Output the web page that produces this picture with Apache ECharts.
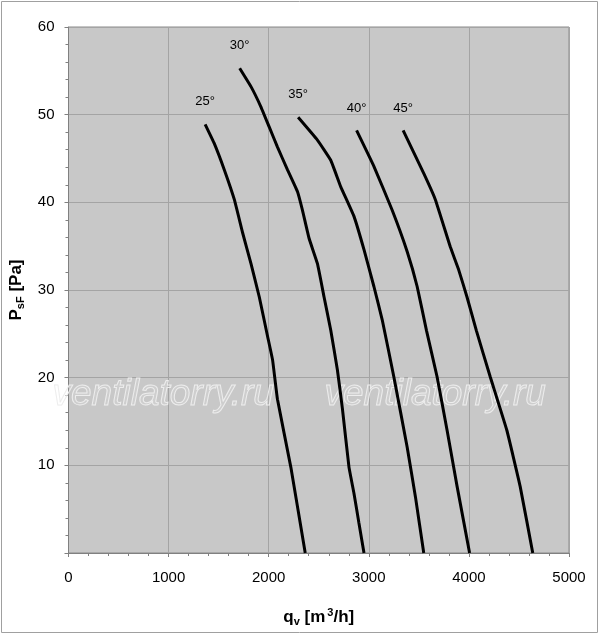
<!DOCTYPE html>
<html><head><meta charset="utf-8">
<script src="https://cdn.jsdelivr.net/npm/echarts@6/dist/echarts.min.js"></script>
<style>html,body{margin:0;padding:0;background:#fff}#c{width:600px;height:635px}</style>
</head><body><div id="c"></div>
<script>
var xTicks = [0, 1000, 2000, 3000, 4000, 5000];
var yTicks = [0, 10, 20, 30, 40, 50, 60];
var angleNames = ['25°', '30°', '35°', '40°', '45°'];
var curve25 = [[1365,48.9],[1457,46.7],[1557,43.7],[1657,40.3],[1740,36.5],[1823,33.0],[1906,29.2],[1989,24.7],[2039,22.0],[2088,17.5],[2221,9.8],[2365,0]];
var curve30 = [[1710,55.3],[1823,53.2],[1922,50.9],[2005,48.6],[2088,46.3],[2188,43.7],[2288,41.2],[2337,39.1],[2403,35.9],[2487,33.0],[2553,29.2],[2620,25.4],[2686,20.9],[2736,16.5],[2802,9.8],[2852,6.8],[2900,3.5],[2952,0]];
var curve35 = [[2294,49.7],[2487,47.1],[2620,44.8],[2719,41.8],[2852,38.4],[2952,34.6],[3051,30.4],[3134,26.6],[3250,20.1],[3383,12.1],[3466,6.4],[3549,0]];
var curve40 = [[2878,48.2],[3051,44.1],[3234,39.1],[3383,34.4],[3483,30.4],[3576,25.4],[3682,20.1],[3782,14.0],[3882,7.6],[4007,0]];
var curve45 = [[3343,48.2],[3549,43.3],[3665,40.3],[3815,34.9],[3898,32.3],[3981,29.2],[4074,25.4],[4213,20.1],[4379,14.0],[4512,7.6],[4638,0]];
var curves = [curve25, curve30, curve35, curve40, curve45];
var watermark = 'ventilatorry.ru';

var FONT = '"Liberation Sans", Arial, sans-serif';
var chart = echarts.init(document.getElementById('c'));
var series = curves.map(function (c, i) {
  var data = c.map(function (p, j) {
    if (j === 0) {
      return {value: p, label: {show: true, formatter: angleNames[i], position: 'top', distance: 16,
        color: '#000', fontSize: 13, fontFamily: FONT}};
    }
    return p;
  });
  return {type: 'line', data: data, symbol: 'circle', symbolSize: 0.01, showSymbol: true,
    label: {show: false}, smooth: 0.1,
    lineStyle: {color: '#000', width: 3}, itemStyle: {color: '#000'}, silent: true, z: 5};
});

chart.setOption({
  animation: false,
  textStyle: {fontFamily: FONT},
  grid: {left: 67, right: 31, top: 27, bottom: 82, show: true, backgroundColor: '#c8c8c8', borderColor: '#8a8a8a', borderWidth: 1},
  xAxis: {
    type: 'value', min: xTicks[0], max: xTicks[xTicks.length - 1], interval: 1000,
    name: '{b|q}{s|v}{b| [m}{p|3}{b|/h]}', nameLocation: 'middle', nameGap: 54,
    nameTextStyle: {rich: {
      b: {fontSize: 17, fontWeight: 'bold', color: '#000', fontFamily: FONT},
      s: {fontSize: 11, fontWeight: 'bold', color: '#000', fontFamily: FONT, verticalAlign: 'bottom', padding: [9, 0, 0, 0]},
      p: {fontSize: 11, fontWeight: 'bold', color: '#000', fontFamily: FONT, verticalAlign: 'top', padding: [0, 0, 7, 2]}
    }},
    axisLine: {lineStyle: {color: '#808080', width: 1}},
    axisTick: {show: true, length: 4, lineStyle: {color: '#808080'}},
    minorTick: {show: true, splitNumber: 5, length: 3, lineStyle: {color: '#808080'}},
    axisLabel: {fontSize: 15, color: '#000', margin: 17, fontFamily: FONT,
      formatter: function (v) { return String(v); }},
    splitLine: {show: true, lineStyle: {color: '#a4a4a4', width: 1}}
  },
  yAxis: {
    type: 'value', min: yTicks[0], max: yTicks[yTicks.length - 1], interval: 10,
    name: '{b|P}{s|sF}{b| [Pa]}', nameLocation: 'middle', nameGap: 42,
    nameTextStyle: {rich: {
      b: {fontSize: 17, fontWeight: 'bold', color: '#000', fontFamily: FONT},
      s: {fontSize: 11, fontWeight: 'bold', color: '#000', fontFamily: FONT, verticalAlign: 'bottom', padding: [9, 0, 0, 0]}
    }},
    axisLine: {show: true, lineStyle: {color: '#808080', width: 1}},
    axisTick: {show: true, length: 4, lineStyle: {color: '#808080'}},
    minorTick: {show: true, splitNumber: 5, length: 3, lineStyle: {color: '#808080'}},
    axisLabel: {fontSize: 15, color: '#000', margin: 14, fontFamily: FONT,
      formatter: function (v) { return v === 0 ? '' : String(v); }},
    splitLine: {show: true, lineStyle: {color: '#a4a4a4', width: 1}}
  },
  graphic: [
    {type: 'rect', shape: {x: 1.5, y: 1.5, width: 596, height: 631}, style: {fill: 'none', stroke: '#a0a0a0', lineWidth: 1}, silent: true, z: 0},
    {type: 'text', left: 52, top: 376, z: 3, silent: true,
      style: {text: watermark, font: 'italic 37px "Liberation Sans", Arial, sans-serif', fill: 'rgba(255,255,255,0.12)', stroke: '#ececec', lineWidth: 1}},
    {type: 'text', left: 324, top: 376, z: 3, silent: true,
      style: {text: watermark, font: 'italic 37px "Liberation Sans", Arial, sans-serif', fill: 'rgba(255,255,255,0.12)', stroke: '#ececec', lineWidth: 1}}
  ],
  series: series
});
</script></body></html>
